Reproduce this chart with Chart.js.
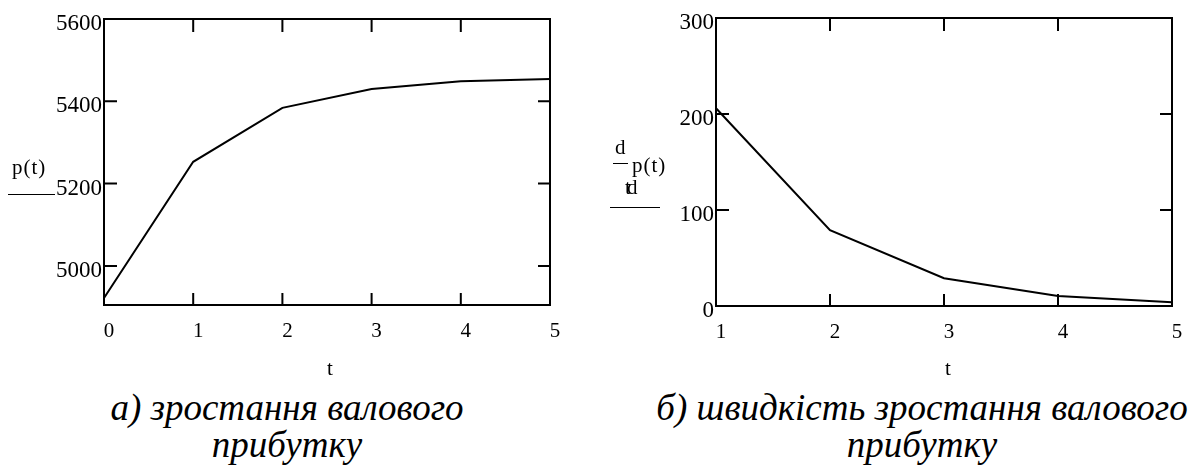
<!DOCTYPE html>
<html>
<head>
<meta charset="utf-8">
<script src="https://cdn.jsdelivr.net/npm/chart.js@4.4.1/dist/chart.umd.min.js"></script>
<style>
  body { margin: 0; background: #fff; }
  #page { position: relative; width: 1200px; height: 468px; overflow: hidden; font-family: "Liberation Serif", "Times New Roman", serif; color: #000; }
  canvas { position: absolute; top: 0; }
  .lbl { position: absolute; font-size: 21px; line-height: 20px; white-space: nowrap; }
  .bar { position: absolute; height: 0; border-top: 1.5px solid #000; }
  .cap { position: absolute; font-family: "Liberation Serif", serif; font-style: italic; font-size: 37px; line-height: 37px; text-align: center; white-space: nowrap; }
</style>
</head>
<body>
<div id="page">
  <canvas id="growth" width="600" height="360" style="left:0"></canvas>
  <canvas id="rate" width="600" height="360" style="left:600px"></canvas>

  <div class="lbl" style="left:12px; top:157px; letter-spacing:1px;">p(t)</div>
  <div class="bar" style="left:8px; top:194px; width:47px;"></div>
  <div class="lbl" style="left:327px; top:358px;">t</div>

  <div class="lbl" style="left:615px; top:137px;">d</div>
  <div class="bar" style="left:613px; top:163px; width:15px;"></div>
  <div class="lbl" style="left:632px; top:155px; letter-spacing:1px;">p(t)</div>
  <div class="lbl" style="left:627px; top:177px;">d</div>
  <div class="lbl" style="left:625px; top:177px;">t</div>
  <div class="bar" style="left:610px; top:207px; width:50px;"></div>
  <div class="lbl" style="left:945px; top:358px;">t</div>

  <div class="cap" style="left:87px; top:389px; width:400px;">а) зростання валового<br>прибутку</div>
  <div class="cap" style="left:622px; top:389px; width:600px;">б) швидкість зростання валового<br>прибутку</div>
</div>
<script>
// p(t) - gross profit growth
const tGrowth = [0, 1, 2, 3, 4, 5];
const profit = [4922, 5253, 5384, 5430, 5449, 5454];
const profitTicks = [5000, 5200, 5400, 5600];

// dp/dt - growth rate
const tRate = [1, 2, 3, 4, 5];
const profitRate = [206, 79, 29, 10.5, 4];
const rateTicks = [0, 100, 200, 300];

const FONT = "'Liberation Serif', 'Times New Roman', serif";

// Mathcad-style frame with inward tick marks on all four sides
const innerTicks = {
    id: "innerTicks",
    afterDraw(chart) {
        const { ctx, chartArea: a, scales: { x, y } } = chart;
        ctx.save();
        ctx.strokeStyle = "#000";
        ctx.lineWidth = 2;
        ctx.beginPath();
        x.ticks.forEach(t => {
            const px = x.getPixelForValue(t.value);
            ctx.moveTo(px, a.top); ctx.lineTo(px, a.top + 13);
            ctx.moveTo(px, a.bottom); ctx.lineTo(px, a.bottom - 12);
        });
        y.ticks.forEach(t => {
            const py = y.getPixelForValue(t.value);
            ctx.moveTo(a.left, py); ctx.lineTo(a.left + 13, py);
            ctx.moveTo(a.right, py); ctx.lineTo(a.right - 12, py);
        });
        ctx.stroke();
        ctx.strokeRect(a.left, a.top, a.width, a.height);
        ctx.restore();
    }
};

function makeChart(id, xs, ys, xMin, xMax, yMin, yMax, yTicks, yAxisW, xAxisH, pad) {
    const el = document.getElementById(id);
    return new Chart(el.getContext("2d"), {
        type: "line",
        data: {
            datasets: [{
                data: xs.map((v, i) => ({ x: v, y: ys[i] })),
                borderColor: "#000",
                borderWidth: 2,
                pointRadius: 0,
                tension: 0,
                clip: 4
            }]
        },
        options: {
            responsive: false,
            animation: false,
            layout: { padding: pad },
            plugins: { legend: { display: false }, tooltip: { enabled: false } },
            scales: {
                x: {
                    type: "linear",
                    min: xMin, max: xMax,
                    grid: { display: false, tickLength: 0 },
                    border: { display: false },
                    ticks: { stepSize: 1, color: "#000", padding: 14, labelOffset: 5, maxRotation: 0,
                             font: { family: FONT, size: 21 }, callback: v => String(v) },
                    afterFit: s => { s.height = xAxisH; }
                },
                y: {
                    min: yMin, max: yMax,
                    grid: { display: false, tickLength: 0 },
                    border: { display: false },
                    ticks: { color: "#000", padding: 2, labelOffset: 5,
                             font: { family: FONT, size: 23 }, callback: v => String(v) },
                    afterBuildTicks: s => { s.ticks = yTicks.map(v => ({ value: v })); },
                    afterFit: s => { s.width = yAxisW; }
                }
            }
        },
        plugins: [innerTicks]
    });
}

function draw() {
    makeChart("growth", tGrowth, profit, 0, 5, 4905, 5600, profitTicks, 104, 55, { left: 0, top: 19, right: 50, bottom: 0 });
    makeChart("rate", tRate, profitRate, 1, 5, 0, 300, rateTicks, 116, 54, { left: 0, top: 18, right: 28, bottom: 0 });
}

Promise.all([
    document.fonts.load("21px 'Liberation Serif'"),
    document.fonts.load("italic 37px 'Liberation Serif'")
]).then(draw, draw);
</script>
</body>
</html>
